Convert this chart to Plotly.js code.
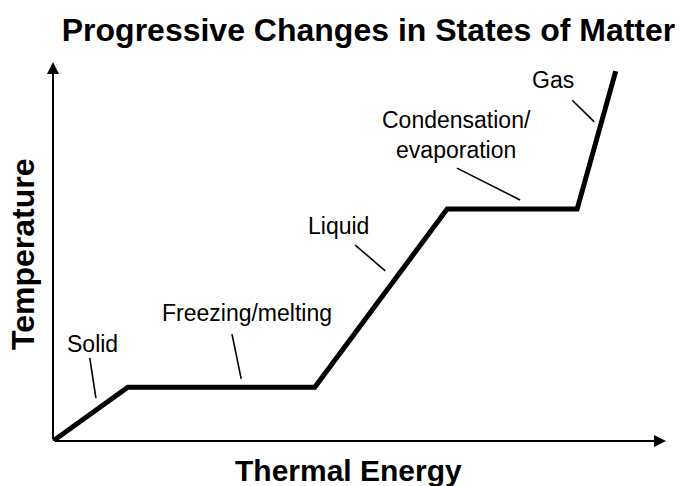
<!DOCTYPE html>
<html>
<head>
<meta charset="utf-8">
<script src="https://cdn.plot.ly/plotly-3.0.1.min.js"></script>
<style>html,body{margin:0;padding:0;background:#fff;}#chart{width:682px;height:486px;}</style>
</head>
<body>
<div id="chart"></div>
<script>
// Heating curve (arbitrary units)
const thermalEnergy = [0, 12.2, 42.7, 64.3, 85.5, 91.8];
const temperature   = [0, 14.2, 14.2, 61.2, 61.2, 97.6];

// Phase labels
const phaseLabels = ["Solid", "Freezing/melting", "Liquid", "Condensation/<br>evaporation", "Gas"];

const FONT = "Liberation Sans, Arial, Helvetica, sans-serif";

// label placement (data coords) and leader lines
const labelPos = [
  {x: 6.5,  y: 25.6},
  {x: 31.6, y: 33.8},
  {x: 46.6, y: 56.7},
  {x: 65.8, y: 80.7},
  {x: 81.6, y: 95.3}
];
const leaders = [
  [6.0, 21.9, 7.0, 11.3],
  [29.2, 28.2, 30.7, 16.4],
  [49.3, 51.7, 54.2, 44.9],
  [65.9, 72.0, 76.2, 63.6],
  [84.7, 89.9, 88.3, 84.2]
];

const annotations = phaseLabels.map((t, i) => ({
  x: labelPos[i].x, y: labelPos[i].y, xref: 'x', yref: 'y',
  text: t, showarrow: false, xanchor: 'center', yanchor: 'middle',
  font: {family: FONT, size: 23, color: '#000'}
}));

// axis titles (paper coords are relative to the plot area: x 53..666, y 62..441 px)
annotations.push({x: (348 - 53) / 613, y: (441 - 470) / 379, xref: 'paper', yref: 'paper',
  text: '<b>Thermal Energy</b>', showarrow: false, xanchor: 'center', yanchor: 'middle',
  font: {family: FONT, size: 30, color: '#000'}});
annotations.push({x: (23 - 53) / 613, y: (441 - 255) / 379, xref: 'paper', yref: 'paper',
  text: '<b>Temperature</b>', showarrow: false, textangle: -90, xanchor: 'center', yanchor: 'middle',
  font: {family: FONT, size: 32, color: '#000'}});

// axis arrows
annotations.push({x: 100, y: 0, ax: 0, ay: 0, xref: 'x', yref: 'y', axref: 'x', ayref: 'y',
  text: '', showarrow: true, arrowhead: 2, arrowsize: 1.2, arrowwidth: 2, arrowcolor: '#000'});
annotations.push({x: 0, y: 100, ax: 0, ay: 0, xref: 'x', yref: 'y', axref: 'x', ayref: 'y',
  text: '', showarrow: true, arrowhead: 2, arrowsize: 1.2, arrowwidth: 2, arrowcolor: '#000'});

const shapes = leaders.map(l => ({
  type: 'line', xref: 'x', yref: 'y', x0: l[0], y0: l[1], x1: l[2], y1: l[3],
  line: {color: '#000', width: 1.6}
}));

const trace = {
  x: thermalEnergy, y: temperature, type: 'scatter', mode: 'lines',
  line: {color: '#000', width: 5}, hoverinfo: 'skip'
};

const layout = {
  width: 682, height: 486,
  margin: {l: 53, r: 16, t: 62, b: 45},
  paper_bgcolor: '#fff', plot_bgcolor: '#fff',
  showlegend: false,
  title: {text: '<b>Progressive Changes in States of Matter</b>',
    font: {family: FONT, size: 32, color: '#000'},
    x: 368.5/682, xref: 'container', xanchor: 'center',
    y: 1 - 30/486, yref: 'container', yanchor: 'middle'},
  xaxis: {range: [0, 100], showgrid: false, zeroline: false, showline: false,
    showticklabels: false, ticks: '', fixedrange: true},
  yaxis: {range: [0, 100], showgrid: false, zeroline: false, showline: false,
    showticklabels: false, ticks: '', fixedrange: true},
  annotations: annotations,
  shapes: shapes
};

Plotly.newPlot('chart', [trace], layout, {displayModeBar: false, staticPlot: true});
</script>
</body>
</html>
